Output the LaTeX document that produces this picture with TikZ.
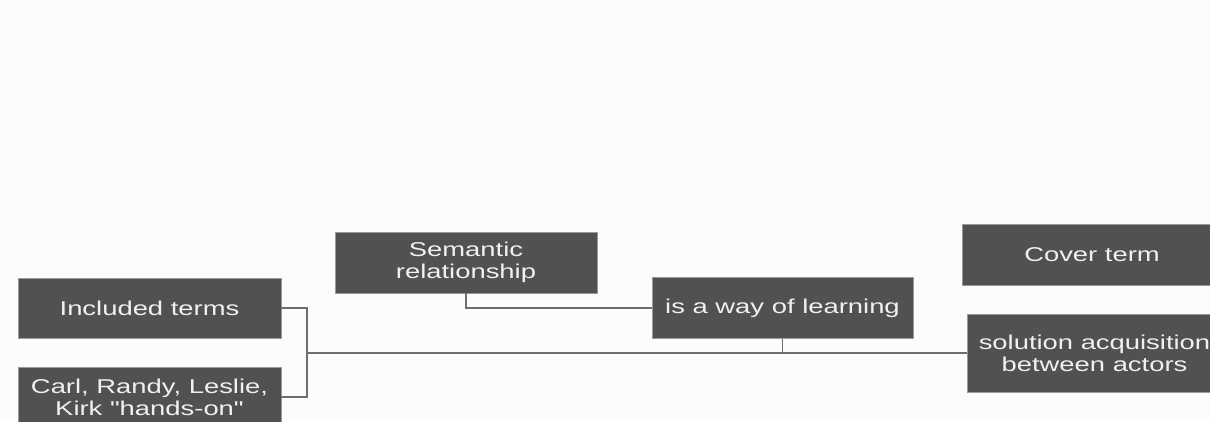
\documentclass[tikz,border=0pt]{standalone}
\usepackage{fontspec}
\usepackage{xcolor}
\usepackage{tikz}
\usetikzlibrary{
  positioning,
  calc
}
\newfontfamily\boxfont[FakeStretch=1.37]{Liberation Sans}
\definecolor{boxgray}{HTML}{515151}
\definecolor{edgegray}{HTML}{9A9A9A}
\definecolor{linegray}{HTML}{6E6E6E}
\definecolor{papergray}{HTML}{FCFCFC}

\begin{document}
\begin{tikzpicture}[
      x=1pt, y=1pt,
      termbox/.style={rectangle, draw=edgegray, line width=0.6pt, fill=boxgray, text=white!94!black,
        minimum width=263pt, minimum height=60pt, inner sep=0pt, align=center,
        font=\boxfont\fontsize{20}{22}\selectfont},
      link/.style={draw=linegray, line width=1.5pt}
    ]
      \useasboundingbox (0,0) rectangle (1210,421);
      \fill[papergray] (0,0) rectangle (1210,421);
      \clip (0,0) rectangle (1210,421);

      % Nodes
      \node[termbox] (incl) at (149.5,113) {Included terms};
      \node[termbox, below of=incl, node distance=89pt] (carl) {Carl, Randy, Leslie,\\Kirk "hands-on"};
      \node[termbox, minimum width=262pt, minimum height=61pt] (sem) at (466,158.5) {Semantic\\relationship};
      \node[termbox, right of=incl, node distance=633pt, minimum width=261pt, minimum height=61pt] (way) {is a way of learning};
      \node[termbox, minimum width=260pt, minimum height=61pt] (cover) at (1092,166.5) {Cover term};
      \node[termbox, minimum width=255pt, minimum height=78pt] (sol) at (1094.5,68) {solution acquisition\\between actors};

      % Connectors
      \coordinate (join) at (307,68);
      \draw[link] (incl.east) -| (join) |- (carl.east);
      \draw[link] (join) -- (sol.west);
      \draw[link] (sem.south) |- (way.west);
      \draw[link] (way.south) -- (way.south |- join);
    \end{tikzpicture}
\end{document}
